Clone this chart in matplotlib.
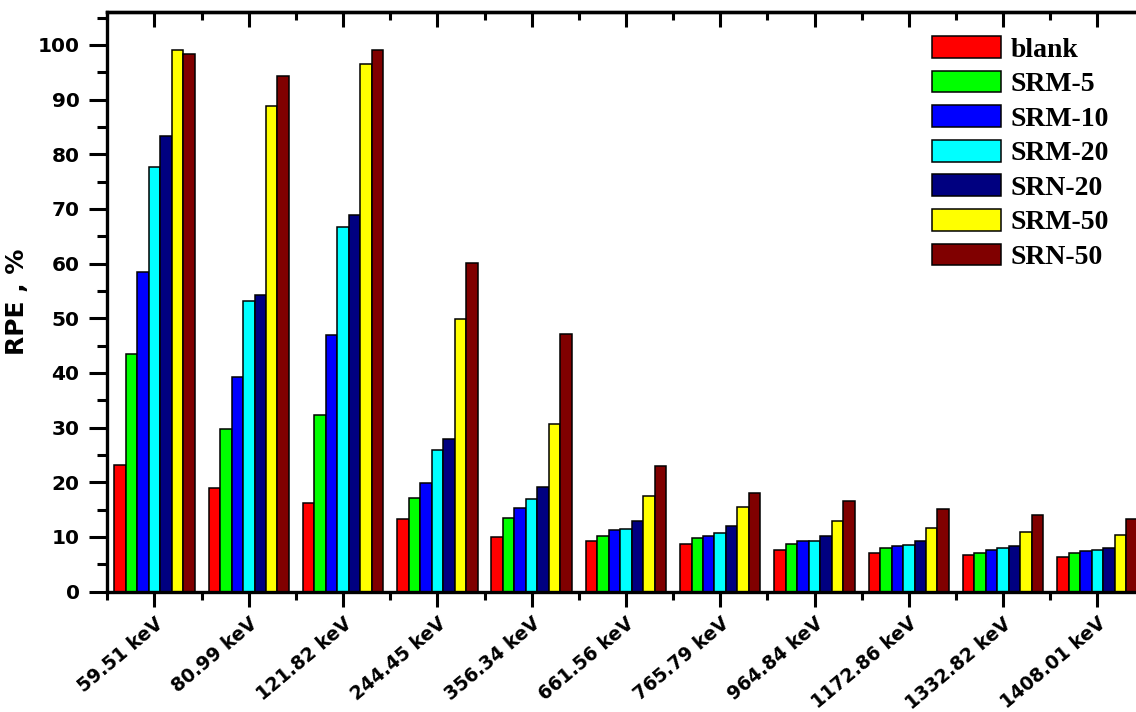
import matplotlib
matplotlib.use("Agg")
import matplotlib.pyplot as plt
from matplotlib.ticker import MultipleLocator, FixedLocator
import numpy as np

# gamma energies on the x axis
energies = ["59.51 keV", "80.99 keV", "121.82 keV", "244.45 keV", "356.34 keV",
            "661.56 keV", "765.79 keV", "964.84 keV", "1172.86 keV",
            "1332.82 keV", "1408.01 keV"]

samples = ["blank", "SRM-5", "SRM-10", "SRM-20", "SRN-20", "SRM-50", "SRN-50"]

# RPE (%) per sample, one value per energy
blank  = [23.2, 18.9, 16.2, 13.3, 10.0, 9.3, 8.8, 7.7, 7.1, 6.7, 6.4]
srm_5  = [43.4, 29.8, 32.3, 17.1, 13.5, 10.2, 9.8, 8.7, 7.9, 7.1, 7.0]
srm_10 = [58.5, 39.3, 46.9, 19.8, 15.3, 11.3, 10.2, 9.2, 8.3, 7.7, 7.5]
srm_20 = [77.7, 53.1, 66.7, 25.9, 17.0, 11.5, 10.8, 9.2, 8.6, 7.9, 7.6]
srn_20 = [83.4, 54.3, 68.8, 28.0, 19.2, 12.9, 12.0, 10.1, 9.3, 8.4, 8.0]
srm_50 = [99.1, 88.8, 96.5, 49.9, 30.6, 17.5, 15.4, 12.9, 11.7, 11.0, 10.4]
srn_50 = [98.4, 94.3, 99.0, 60.2, 47.2, 23.0, 18.1, 16.6, 15.1, 14.0, 13.2]

series = [blank, srm_5, srm_10, srm_20, srn_20, srm_50, srn_50]
colors = ["#FF0000", "#00FF00", "#0000FF", "#00FFFF", "#000080", "#FFFF00", "#800000"]

plt.rcParams["font.family"] = "DejaVu Sans"
plt.rcParams["font.weight"] = "bold"

fig = plt.figure(figsize=(11.36, 7.12), dpi=100)
# the right spine sits just past the edge of the canvas
ax = fig.add_axes([0.0945, 0.169, 0.913, 0.814])

x = np.arange(len(energies))
w = 0.1217
for j, (vals, col, name) in enumerate(zip(series, colors, samples)):
    ax.bar(x + (j - 3) * w, vals, w, color=col, edgecolor="black",
           linewidth=1.1, label=name, zorder=2)

ax.set_xlim(-0.5, len(energies) - 0.5)
ax.set_ylim(0, 106)

# y axis
ax.yaxis.set_minor_locator(MultipleLocator(5))
ax.set_yticks(np.arange(0, 101, 10))
ax.tick_params(axis="y", which="major", direction="out", length=13, width=2.2,
               labelsize=14.5, pad=7)
ax.tick_params(axis="y", which="minor", direction="out", length=7, width=2.2)

# x axis: labels at group centres, minor ticks at group boundaries
ax.set_xticks(x)
ax.set_xticklabels(energies, rotation=40, ha="right", rotation_mode="anchor",
                   fontsize=13.5, fontweight="bold")
ax.xaxis.set_minor_locator(FixedLocator(np.arange(-0.5, len(energies), 1.0)))
ax.tick_params(axis="x", which="major", direction="out", length=11, width=2.2,
               pad=5)
ax.tick_params(axis="x", which="minor", direction="out", length=6, width=2.2)

# inward ticks along the top spine
sec = ax.secondary_xaxis("top")
sec.set_xticks(x)
sec.set_xticklabels([])
sec.xaxis.set_minor_locator(FixedLocator(np.arange(-0.5, len(energies), 1.0)))
sec.tick_params(axis="x", which="major", direction="in", length=11, width=2.2)
sec.tick_params(axis="x", which="minor", direction="in", length=6, width=2.2)
sec.spines["top"].set_linewidth(2.4)

for s in ax.spines.values():
    s.set_linewidth(2.4)

ax.set_ylabel("RPE , %", fontsize=18, fontweight="bold", labelpad=6)

leg = fig.legend(loc="upper left", bbox_to_anchor=(932 / 1136, 1 - 36 / 712),
                 frameon=False, borderpad=0, borderaxespad=0,
                 handlelength=2.5, handleheight=0.83, handletextpad=0.33,
                 labelspacing=0.29,
                 prop={"family": "Liberation Serif", "weight": "bold", "size": 20})

fig.savefig("out.png", dpi=100)
